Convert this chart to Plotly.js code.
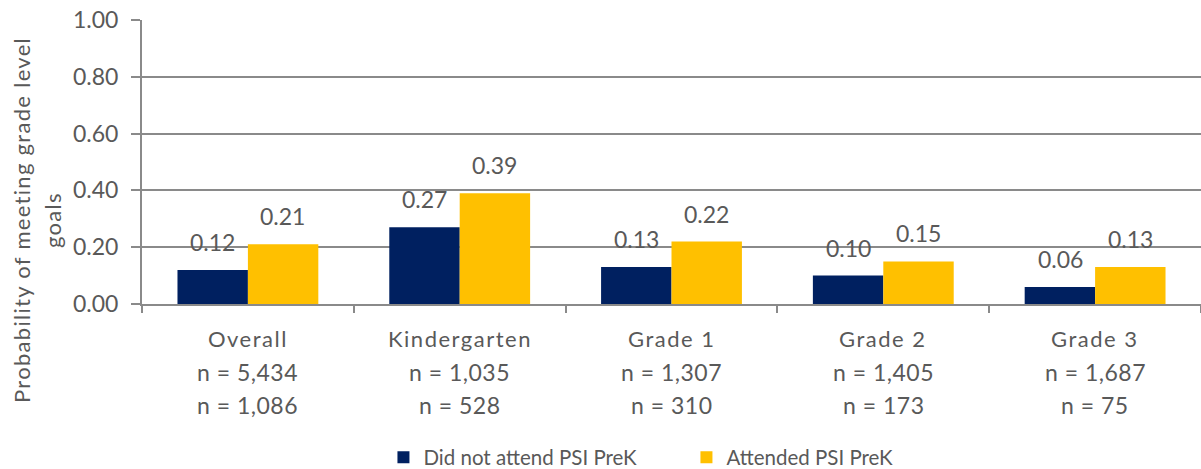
<!DOCTYPE html>
<html>
<head>
<meta charset="utf-8">
<script src="https://cdn.plot.ly/plotly-3.0.1.min.js"></script>
<style>
  html, body { margin: 0; padding: 0; background: #fff; }
  #chart { width: 1201px; height: 469px; }
</style>
</head>
<body>
<div id="chart"></div>
<script>
const categories = ['Overall', 'Kindergarten', 'Grade 1', 'Grade 2', 'Grade 3'];
const nNotAttended = ['5,434', '1,035', '1,307', '1,405', '1,687'];
const nAttended = ['1,086', '528', '310', '173', '75'];
const notAttended = [0.12, 0.27, 0.13, 0.10, 0.06];
const attended = [0.21, 0.39, 0.22, 0.15, 0.13];

const textColor = '#595959';
const gridColor = '#8a8a8a';
const fontFamily = 'Lato, "Open Sans", sans-serif';

// the reference text is spaced out a little
function spaced(txt, px) {
  return '<span style="letter-spacing:' + px + 'px">' + txt + '</span>';
}

const traces = [
  {
    type: 'bar',
    name: 'Did not attend PSI PreK',
    x: categories,
    y: notAttended,
    marker: { color: '#002060' },
    hoverinfo: 'y'
  },
  {
    type: 'bar',
    name: 'Attended PSI PreK',
    x: categories,
    y: attended,
    marker: { color: '#FFC000' },
    hoverinfo: 'y'
  }
];

const annotations = [];

// value labels above each bar
const halfBar = 35;
categories.forEach((cat, i) => {
  [[notAttended, -halfBar], [attended, halfBar]].forEach(([vals, shift]) => {
    annotations.push({
      x: cat, xref: 'x', y: vals[i], yref: 'y',
      xshift: shift, yshift: 12,
      xanchor: 'center', yanchor: 'bottom',
      text: vals[i].toFixed(2),
      showarrow: false,
      font: { size: 23, color: textColor, family: fontFamily }
    });
  });
});

// category labels, three lines each
const lineY = [-0.12, -0.24, -0.355];
categories.forEach((cat, i) => {
  [spaced(cat, 1.5), spaced('n = ' + nNotAttended[i], 0.5), spaced('n = ' + nAttended[i], 0.5)].forEach((txt, j) => {
    annotations.push({
      x: cat, xref: 'x', y: lineY[j], yref: 'paper',
      xanchor: 'center', yanchor: 'middle',
      text: txt, showarrow: false,
      font: { size: j === 0 ? 22 : 23, color: textColor, family: fontFamily }
    });
  });
});

// y-axis title, two lines
[['Probability of meeting grade level', -0.1133], ['goals', -0.084]].forEach(([txt, xp]) => {
  annotations.push({
    x: xp, xref: 'paper', y: 0.296, yref: 'paper',
    xanchor: 'center', yanchor: 'middle',
    textangle: -90, text: spaced(txt, 1.3), showarrow: false,
    font: { size: 22, color: textColor, family: fontFamily }
  });
});

const layout = {
  width: 1201,
  height: 469,
  margin: { l: 142, r: 0, t: 20, b: 165, autoexpand: false },
  paper_bgcolor: '#ffffff',
  plot_bgcolor: '#ffffff',
  font: { family: fontFamily, size: 20, color: textColor },
  barmode: 'group',
  bargap: 0.335,
  bargroupgap: 0,
  showlegend: true,
  legend: {
    orientation: 'h',
    x: 0.228, xanchor: 'left',
    y: -0.54, yanchor: 'middle',
    entrywidth: 258, entrywidthmode: 'pixels',
    font: { size: 20.5, color: textColor, family: fontFamily },
    bgcolor: 'rgba(0,0,0,0)'
  },
  xaxis: {
    type: 'category',
    showticklabels: false,
    showline: true,
    linecolor: gridColor,
    linewidth: 2,
    ticks: 'outside',
    tickson: 'boundaries',
    ticklen: 7,
    tickwidth: 2,
    tickcolor: gridColor,
    showgrid: false
  },
  yaxis: {
    range: [0, 1],
    dtick: 0.2,
    tickformat: '.2f',
    showgrid: true,
    gridcolor: gridColor,
    gridwidth: 2,
    zeroline: false,
    showline: true,
    linecolor: gridColor,
    linewidth: 2,
    ticks: 'outside',
    ticklen: 9,
    tickwidth: 2,
    tickcolor: gridColor,
    ticklabelstandoff: 8,
    tickfont: { size: 23, color: textColor, family: fontFamily }
  },
  annotations: annotations
};

Plotly.newPlot('chart', traces, layout, { displayModeBar: false, staticPlot: true });
</script>
</body>
</html>
